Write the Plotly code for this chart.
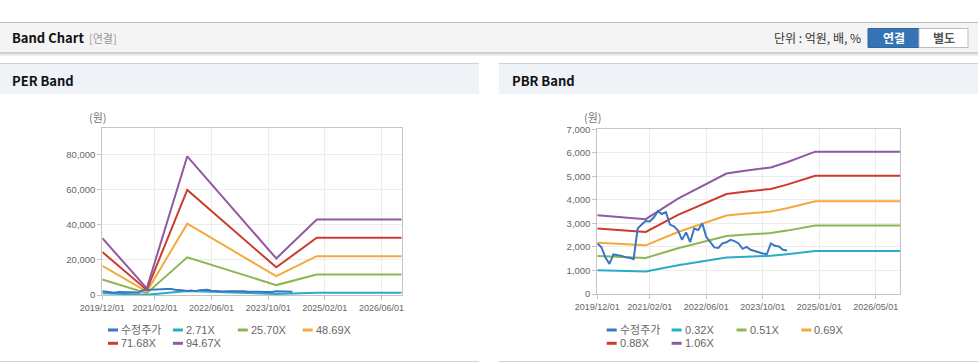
import plotly.graph_objects as go

W, H = 978, 364

# ---------------- data ----------------
per_tick_idx = [0, 13, 27, 41, 55, 69]
per_tick_labels = ['2019/12/01', '2021/02/01', '2022/06/01', '2023/10/01', '2025/02/01', '2026/06/01']
pbr_tick_idx = [0, 13, 27, 41, 55, 69]
pbr_tick_labels = ['2019/12/01', '2021/02/01', '2022/06/01', '2023/10/01', '2025/01/01', '2026/05/01']

# adjusted share price (수정주가), one value per period
price_idx = list(range(48))
price = [2150, 1990, 1560, 1280, 1680, 1660, 1620, 1560, 1540, 1480,
         2780, 2950, 3100, 3080, 3250, 3520, 3400, 3480, 2950, 2880,
         2700, 2300, 2620, 2200, 2780, 2720, 3000, 2430, 2200, 1980,
         1960, 2150, 2200, 2300, 2250, 2150, 1920, 2000, 1880, 1820,
         1760, 1720, 1690, 2150, 2050, 2020, 1880, 1850]

# PER band lines
per_band_idx = [0, 11, 21, 43, 53, 74]
per_271 = [927, 108, 2263, 596, 1233, 1233]
per_2570 = [8790, 1030, 21460, 5650, 11690, 11690]
per_4869 = [16650, 1950, 40660, 10710, 22150, 22150]
per_7168 = [24510, 2870, 59850, 15770, 32610, 32610]
per_9467 = [32380, 3790, 79050, 20830, 43070, 43070]

# PBR band lines
pbr_band_idx = [0, 5, 12, 20, 27, 32, 37, 43, 47, 51, 54, 75]
pbr_032 = [1011, 990, 960, 1223, 1407, 1546, 1585, 1624, 1691, 1763, 1826, 1826]
pbr_051 = [1612, 1578, 1530, 1948, 2242, 2463, 2526, 2588, 2694, 2810, 2911, 2911]
pbr_069 = [2181, 2135, 2070, 2636, 3033, 3333, 3417, 3502, 3645, 3801, 3938, 3938]
pbr_088 = [2781, 2723, 2640, 3362, 3869, 4251, 4359, 4466, 4649, 4848, 5023, 5023]
pbr_106 = [3350, 3280, 3180, 4050, 4660, 5120, 5250, 5380, 5600, 5840, 6050, 6050]

per_legend_names = ['수정주가', '2.71X', '25.70X', '48.69X', '71.68X', '94.67X']
pbr_legend_names = ['수정주가', '0.32X', '0.51X', '0.69X', '0.88X', '1.06X']

# ---------------- styles ----------------
C_PRICE = '#3b76c2'
C_CYAN = '#27aec6'
C_GREEN = '#8cb653'
C_ORANGE = '#f4a93c'
C_RED = '#cc3b2c'
C_PURPLE = '#8e5aa0'
SERIES_COLORS = [C_PRICE, C_CYAN, C_GREEN, C_ORANGE, C_RED, C_PURPLE]
KFONT = 'Noto Sans CJK KR'
AFONT = 'Liberation Sans'


def X(px):
    return px / W


def Y(py):
    return 1 - py / H


fig = go.Figure()

per_bands = [per_271, per_2570, per_4869, per_7168, per_9467]
for name, vals, col in zip(per_legend_names[1:], per_bands, SERIES_COLORS[1:]):
    fig.add_trace(go.Scatter(x=per_band_idx, y=vals, name=name, mode='lines',
                             line=dict(color=col, width=2), xaxis='x', yaxis='y',
                             showlegend=False))
fig.add_trace(go.Scatter(x=price_idx, y=price, name='수정주가', mode='lines',
                         line=dict(color=C_PRICE, width=2), xaxis='x', yaxis='y',
                         showlegend=False))

pbr_bands = [pbr_032, pbr_051, pbr_069, pbr_088, pbr_106]
for name, vals, col in zip(pbr_legend_names[1:], pbr_bands, SERIES_COLORS[1:]):
    fig.add_trace(go.Scatter(x=pbr_band_idx, y=vals, name=name, mode='lines',
                             line=dict(color=col, width=2), xaxis='x2', yaxis='y2',
                             showlegend=False))
fig.add_trace(go.Scatter(x=price_idx, y=price, name='수정주가', mode='lines',
                         line=dict(color=C_PRICE, width=2), xaxis='x2', yaxis='y2',
                         showlegend=False))

axis_common = dict(showgrid=True, gridcolor='#ececec', gridwidth=1,
                   showline=True, linecolor='#c4c4c4', linewidth=1, mirror=True,
                   ticks='outside', ticklen=4, tickcolor='#c4c4c4', zeroline=False)

fig.update_layout(
    width=W, height=H, margin=dict(l=0, r=0, t=0, b=0, autoexpand=False),
    paper_bgcolor='white', plot_bgcolor='white', showlegend=False,
    font=dict(family=AFONT, color='#666'),
    xaxis=dict(domain=[X(102.3), X(401.7)], anchor='y', range=[0, 74],
               tickvals=per_tick_idx, ticktext=per_tick_labels,
               tickfont=dict(size=9, color='#666'), **axis_common),
    yaxis=dict(domain=[Y(295), Y(128.3)], anchor='x', range=[0, 95000],
               tickvals=[0, 20000, 40000, 60000, 80000], tickformat=',',
               tickfont=dict(size=9.5, color='#666'), **axis_common),
    xaxis2=dict(domain=[X(597.3), X(900)], anchor='y2', range=[0, 75],
                tickvals=pbr_tick_idx, ticktext=pbr_tick_labels,
                tickfont=dict(size=9, color='#666'), **axis_common),
    yaxis2=dict(domain=[Y(294), Y(129.3)], anchor='x2', range=[0, 7000],
                dtick=1000, tickformat=',',
                tickfont=dict(size=9.5, color='#666'), **axis_common),
)

# ---------------- page decorations ----------------
shapes = []


def rect(x0, y0, x1, y1, fill, line=None, lw=0, layer='below'):
    shapes.append(dict(type='rect', xref='paper', yref='paper',
                       x0=X(x0), x1=X(x1), y0=Y(y1), y1=Y(y0), fillcolor=fill,
                       line=dict(color=line or fill, width=lw), layer=layer))


def hline(x0, x1, y, color, w=1):
    shapes.append(dict(type='line', xref='paper', yref='paper',
                       x0=X(x0), x1=X(x1), y0=Y(y), y1=Y(y),
                       line=dict(color=color, width=w), layer='below'))


rect(0, 22.5, 978, 52.5, '#f4f4f4')
hline(0, 978, 22.5, '#bdbdbd')
hline(0, 978, 53, '#cfcfcf', 2)
hline(0, 978, 55, '#ececec', 2)
rect(0, 64, 479, 94, '#eff2f6')
hline(0, 479, 63.5, '#d2d2d2')
rect(499, 64, 978, 94, '#eff2f6')
hline(499, 978, 63.5, '#d2d2d2')
hline(0, 479, 361.5, '#d2d2d2')
hline(499, 978, 361.5, '#d2d2d2')
# unit toggle buttons
rect(868, 28.5, 919, 47.5, '#3574b4', '#2d66a3', 1)
rect(919, 28.5, 968, 47.5, '#ffffff', '#bdbdbd', 1)

ann = []


def text(x, y, s, size, color, xanchor='left', bold=False, family=KFONT):
    ann.append(dict(xref='paper', yref='paper', x=X(x), y=Y(y),
                    text=('<b>%s</b>' % s) if bold else s,
                    showarrow=False, xanchor=xanchor, yanchor='middle',
                    borderpad=0,
                    font=dict(size=size, color=color, family=family)))


# legend rows (compact, 4 entries per row)
def legend_block(x_start, y_rows, names, colors, pitch=64.9):
    for i, (nm, col) in enumerate(zip(names, colors)):
        row, colno = divmod(i, 4)
        x0 = x_start + colno * pitch
        y = y_rows[row]
        rect(x0, y - 1.5, x0 + 10, y + 1.5, col, layer='above')
        text(x0 + 12, y, nm, 11, '#666', family=AFONT + ', ' + KFONT)


legend_block(108, [330, 343.3], per_legend_names, SERIES_COLORS)
legend_block(606.7, [330, 343.3], pbr_legend_names, SERIES_COLORS)

text(11, 38, 'Band Chart', 13, '#111', bold=True)
text(88, 38, '[연결]', 11, '#999')
text(862, 38, '단위 : 억원, 배, %', 12, '#333', xanchor='right')
text(893.5, 38, '연결', 12, '#ffffff', xanchor='center', bold=True)
text(943.5, 38, '별도', 12, '#555', xanchor='center', bold=True)
text(11, 80.5, 'PER Band', 13, '#111', bold=True)
text(510.5, 80.5, 'PBR Band', 13, '#111', bold=True)
text(98, 117, '(원)', 11, '#777', xanchor='center')
text(592.5, 117, '(원)', 11, '#777', xanchor='center')

fig.update_layout(shapes=shapes, annotations=ann)

fig.write_html('out.html', config={'displayModeBar': False},
               post_script="document.body.style.margin='0';document.body.style.overflow='hidden';")
